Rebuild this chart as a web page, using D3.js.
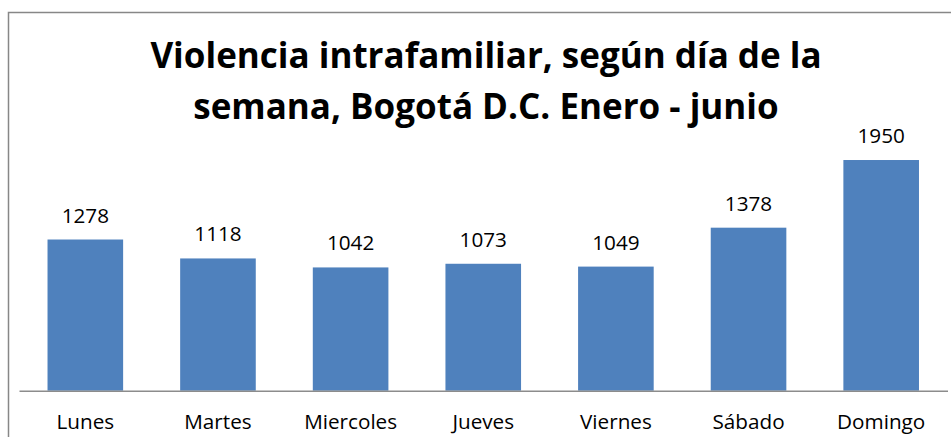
<!DOCTYPE html>
<html>
<head>
<meta charset="utf-8">
<script src="https://cdn.jsdelivr.net/npm/d3@7"></script>
<style>
  html, body { margin: 0; padding: 0; background: #fff; }
  svg { display: block; }
</style>
</head>
<body>
<svg width="951" height="437"></svg>
<script>
const dias = ["Lunes", "Martes", "Miercoles", "Jueves", "Viernes", "Sábado", "Domingo"];
const casos = [1278, 1118, 1042, 1073, 1049, 1378, 1950];
const tituloLineas = ["Violencia intrafamiliar, según día de la", "semana, Bogotá D.C. Enero - junio"];

const baseLine = 390.7; // posición del eje x
const yMax = 2500;      // máximo del eje y (oculto)

let svg = d3.select('svg');

// marco del gráfico (solo se ve el borde izquierdo y superior)
svg.append('path')
  .attr('d', 'M8.5,437 L8.5,12.5 L951,12.5')
  .attr('fill', 'none')
  .attr('stroke', '#878787')
  .attr('stroke-width', 1.5);

let xScale = d3.scaleBand()
  .domain(dias)
  .range([19, 947.5])
  .paddingInner(0.43)
  .paddingOuter(0.215);

let yScale = d3.scaleLinear()
  .domain([0, yMax])
  .range([baseLine, baseLine - yMax * 0.1183]);

let g = svg.append('g');

// barras
g.selectAll('rect')
  .data(casos)
  .enter()
  .append('rect')
  .attr('x', (d, i) => xScale(dias[i]))
  .attr('y', d => yScale(d))
  .attr('width', xScale.bandwidth())
  .attr('height', d => baseLine - yScale(d))
  .attr('fill', '#4f81bd');

// etiquetas de valor
g.selectAll('.valor')
  .data(casos)
  .enter()
  .append('text')
  .attr('class', 'valor')
  .attr('x', (d, i) => xScale(dias[i]) + xScale.bandwidth() / 2)
  .attr('y', d => yScale(d) - 17)
  .attr('text-anchor', 'middle')
  .style('font-family', '"Open Sans", sans-serif')
  .style('font-size', '20.7px')
  .style('fill', '#000')
  .text(d => d);

// eje x
let xAxis = d3.axisBottom(xScale).tickSize(0).tickPadding(0);
let gx = svg.append('g')
  .attr('transform', `translate(0, ${baseLine})`)
  .call(xAxis);

gx.select('path')
  .attr('stroke', '#8c8c8c')
  .attr('stroke-width', 1.5);
gx.selectAll('text')
  .attr('y', 38.6)
  .attr('dy', null)
  .style('font-family', '"Open Sans", sans-serif')
  .style('font-size', '20.7px')
  .style('fill', '#000');

// título
svg.append('g')
  .selectAll('text')
  .data(tituloLineas)
  .enter()
  .append('text')
  .attr('x', 486)
  .attr('y', (d, i) => 68 + i * 51)
  .attr('text-anchor', 'middle')
  .style('font-family', '"Open Sans", sans-serif')
  .style('font-weight', 'bold')
  .style('font-size', '35px')
  .style('fill', '#000')
  .text(d => d);
</script>
</body>
</html>
